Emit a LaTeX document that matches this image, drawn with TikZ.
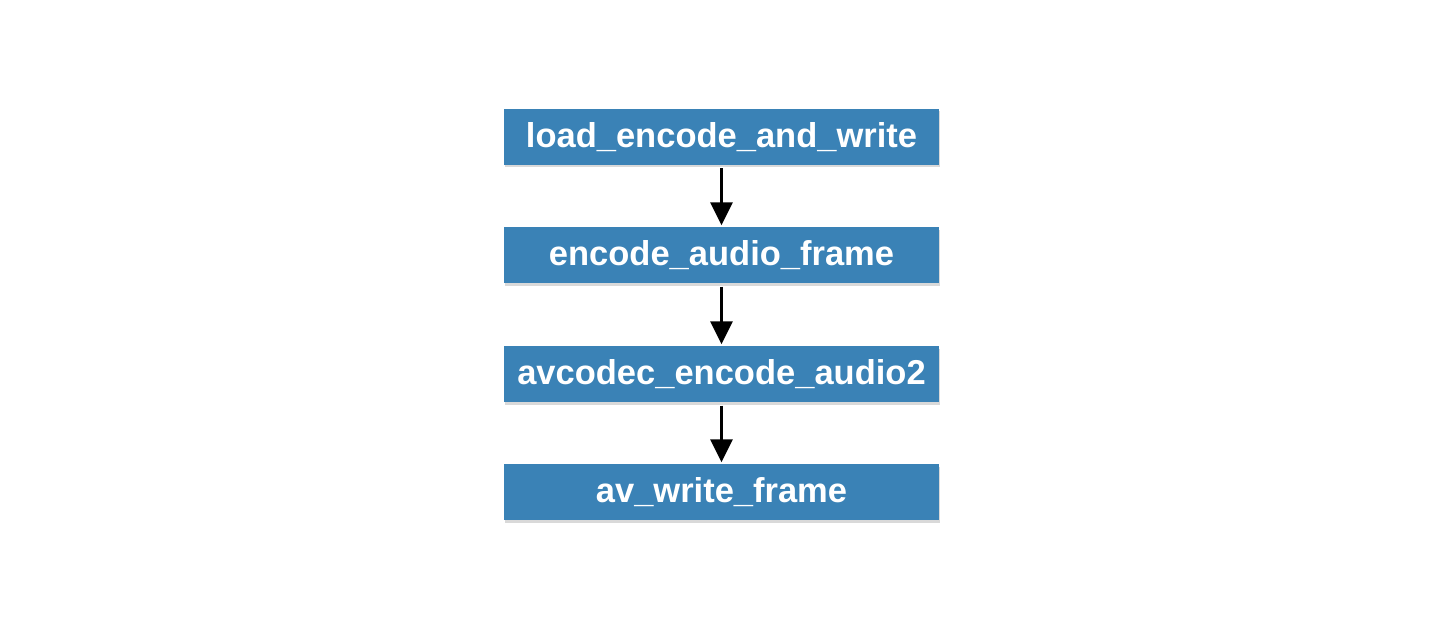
\documentclass[tikz,border=0pt]{standalone}
\usepackage{fontspec}
\setmainfont{Liberation Sans}
\usepackage{tikz}
\usetikzlibrary{arrows.meta,shadows}
\definecolor{callblue}{RGB}{58,130,182}

\begin{document}
\begin{tikzpicture}[
			x = 1pt, y = 1pt,
			call/.style = {draw=none, fill=callblue, minimum width=435pt, minimum height=56pt,
				inner sep=0pt, text=white, font=\fontsize{34.5}{40}\selectfont\bfseries,
				drop shadow={shadow xshift=1pt, shadow yshift=-2.5pt, opacity=0.3}},
			calls/.style = {line width=3pt, -{Triangle[length=23pt,width=22pt]},
				shorten <=3pt, shorten >=2pt}]

			\useasboundingbox (0,0) rectangle (1440,621);

			\node[call] (load) at (721.5,484) {load\_encode\_and\_write};
			\node[call] (enc) at (721.5,365.5) {encode\_audio\_frame};
			\node[call] (codec) at (721.5,246.5) {avcodec\_encode\_audio2};
			\node[call] (write) at (721.5,128.5) {av\_write\_frame};

			\draw[calls] (load) -- (enc);
			\draw[calls] (enc) -- (codec);
			\draw[calls] (codec) -- (write);

		\end{tikzpicture}
\end{document}
